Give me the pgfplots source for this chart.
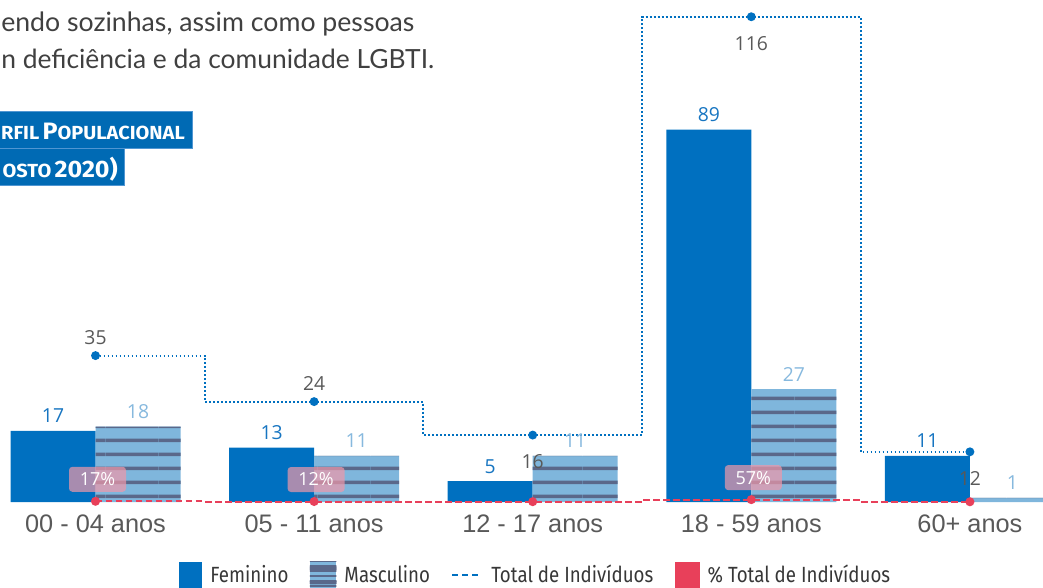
\documentclass[border=0pt]{standalone}
\usepackage{pgfplots}
\pgfplotsset{compat=1.18}
\usepackage{fontspec}
\setmainfont{Open Sans}
\newfontfamily\catfont{Liberation Sans}
\newfontfamily\legfont[FakeStretch=0.85]{Fira Sans}
\newfontfamily\titlefont[FakeStretch=1.055]{Fira Sans}
\newfontfamily\bodyfont{Lato}
\usetikzlibrary{patterns.meta}

\definecolor{fem}{RGB}{0,112,192}
\definecolor{masc}{RGB}{127,182,220}
\definecolor{stripe}{RGB}{90,104,138}
\definecolor{femlab}{RGB}{23,117,193}
\definecolor{masclab}{RGB}{135,185,222}
\definecolor{totlab}{RGB}{89,89,89}
\definecolor{redc}{RGB}{232,64,90}
\definecolor{pinkbox}{RGB}{240,152,169}
\definecolor{txtgray}{RGB}{64,64,64}
\definecolor{legtxt}{RGB}{55,55,55}
\definecolor{titleblue}{RGB}{0,106,180}
\definecolor{titleedge}{RGB}{80,150,210}

\tikzdeclarepattern{
  name=mstripes,
  bottom left={(0pt,0pt)},
  top right={(40pt,10.7pt)},
  tile size={(40pt,10.7pt)},
  code={\fill (0pt,3pt) rectangle (40pt,5.7pt);}
}
\tikzdeclarepattern{
  name=lstripes,
  bottom left={(0pt,0pt)},
  top right={(40pt,3.9pt)},
  tile size={(40pt,3.9pt)},
  code={\fill (0pt,1pt) rectangle (40pt,2.4pt);}
}

\newcommand\sct[1]{{\fontsize{14.2}{15}\selectfont #1}}
\newcommand\bigc[1]{{\fontsize{17.8}{18}\selectfont #1}}

\begin{document}
\begin{tikzpicture}
\begin{axis}[
  at={(0pt,-376.5pt)}, anchor=south west,
  scale only axis, width=782.25pt, height=376.5pt,
  xmin=-0.4369, xmax=4.3344, ymin=0, ymax=120,
  axis line style={draw=none},
  ytick=\empty,
  xtick={0,1,2,3,4},
  xticklabels={00 - 04 anos, 05 - 11 anos, 12 - 17 anos, 18 - 59 anos, 60+ anos},
  major tick length=0pt,
  xticklabel style={font=\catfont\fontsize{19}{20}\selectfont, text=totlab, anchor=base, yshift=-22.5pt},
  /pgf/number format/assume math mode=true,
  clip=false,
  legend columns=-1,
  legend style={at={(0.514,-0.145)}, anchor=center, draw=none, fill=none,
    font=\legfont\fontsize{16.5}{18}\selectfont, text=legtxt,
    /tikz/every odd column/.append style={column sep=4pt},
    /tikz/every even column/.append style={column sep=14pt}},
]
% Feminino
\addplot[ybar, bar width=63.75pt, bar shift=-31.875pt, fill=fem, draw=none,
  nodes near coords,
  every node near coord/.append style={font=\fontsize{14.5}{16}\selectfont, text=femlab, anchor=base, xshift=-31.875pt, yshift=6pt},
  legend image code/.code={\fill[fem, draw=none, solid] (0pt,-9.75pt) rectangle (17.25pt,9.75pt);}]
  coordinates {(0,17) (1,13) (2,5) (3,89) (4,11)};
\addlegendentry{Feminino}
% Masculino
\addplot[ybar, bar width=63.75pt, bar shift=31.875pt, fill=masc, draw=none,
  postaction={pattern=mstripes, pattern color=stripe},
  nodes near coords,
  every node near coord/.append style={font=\fontsize{14.5}{16}\selectfont, text=masclab, anchor=base, xshift=31.875pt, yshift=6pt},
  legend image code/.code={\fill[masc, draw=none, solid] (0pt,-9.75pt) rectangle (20pt,9.75pt);
     \fill[pattern=lstripes, pattern color=stripe, draw=none] (0pt,-9.75pt) rectangle (20pt,9.75pt);}]
  coordinates {(0,18) (1,11) (2,11) (3,27) (4,1)};
\addlegendentry{Masculino}
% Total
\addplot[fem, line width=1.4pt, dash pattern=on 1.4pt off 1.6pt, const plot mark mid,
  mark=*, mark size=2.6pt, mark options={solid, fill=fem, draw=none},
  legend image code/.code={\draw[fem, line width=1.5pt, dash pattern=on 4.5pt off 3pt] (0pt,0pt) -- (22.5pt,0pt);}]
  coordinates {(0,35) (1,24) (2,16) (3,116) (4,12)};
\addlegendentry{Total de Indivíduos}
\addplot[draw=none, mark=none, forget plot, nodes near coords, point meta=y,
  every node near coord/.append style={font=\fontsize{14.5}{16}\selectfont, text=totlab, anchor=base, yshift=8.25pt}]
  coordinates {(0,35) (1,24)};
\addplot[draw=none, mark=none, forget plot, nodes near coords, point meta=y,
  every node near coord/.append style={font=\fontsize{14.5}{16}\selectfont, text=totlab, anchor=base, yshift=-25pt}]
  coordinates {(2,16) (3,116) (4,12)};
% Percent
\addplot[redc, line width=1.5pt, dash pattern=on 5pt off 2.5pt, const plot mark mid,
  mark=*, mark size=2.6pt, mark options={solid, fill=redc, draw=none},
  legend image code/.code={\fill[redc, draw=none, solid] (0pt,-9.75pt) rectangle (18.75pt,9.75pt);}]
  coordinates {(0,0.17) (1,0.12) (2,0.08) (3,0.57) (4,0.06)};
\addlegendentry{\% Total de Indivíduos}
\addplot[draw=none, mark=none, forget plot, point meta=explicit symbolic, nodes near coords,
  every node near coord/.append style={font=\fontsize{13.5}{15}\selectfont, text=white,
    fill=pinkbox, fill opacity=0.7, text opacity=1, rounded corners=2.5pt,
    minimum width=42.75pt, minimum height=18.75pt, inner sep=0pt, anchor=center,
    xshift=1.5pt, yshift=16.5pt}]
  coordinates {(0,0.17) [17\%] (1,0.12) [12\%] (3,0.57) [57\%]};
\end{axis}

\begin{scope}[x=0.75pt, y=-0.75pt]
  \node[anchor=base west, inner sep=0pt, text=txtgray, font=\bodyfont\fontsize{20}{22}\selectfont] at (1,31) {endo sozinhas, assim como pessoas};
  \node[anchor=base west, inner sep=0pt, text=txtgray, font=\bodyfont\fontsize{19.8}{22}\selectfont] at (1,68) {n deficiência e da comunidade LGBTI.};
  \fill[titleblue, draw=titleedge, line width=0.75pt] (-2,111) rectangle (192,148);
  \fill[titleblue, draw=titleedge, line width=0.75pt] (-2,148) rectangle (124,185);
  \node[anchor=base east, inner sep=0pt, text=white, font=\titlefont\bfseries] at (185,139) {\sct{RFIL} \bigc{P}\sct{OPULACIONAL}};
  \node[anchor=base east, inner sep=0pt, text=white, font=\titlefont\bfseries] at (118,177) {\sct{OSTO} \bigc{2020)}};
\end{scope}

\pgfresetboundingbox
\path[use as bounding box] (0pt,0pt) rectangle (782.25pt,-440.25pt);
\end{tikzpicture}
\end{document}
